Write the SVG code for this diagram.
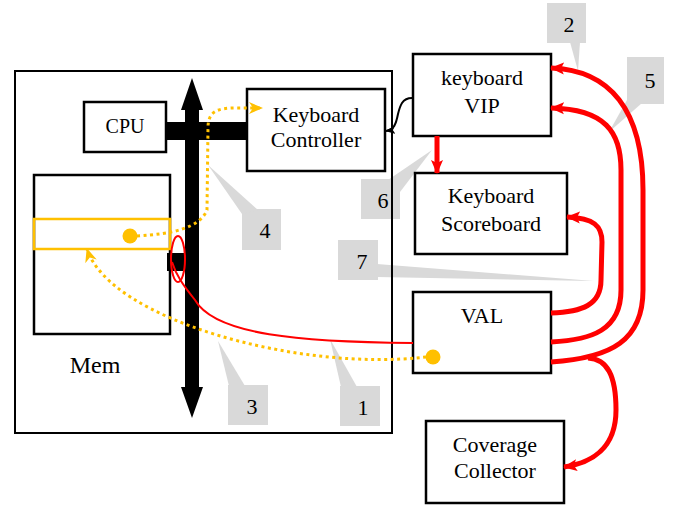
<svg xmlns="http://www.w3.org/2000/svg" width="674" height="506" viewBox="0 0 674 506">
<style>
.box{fill:#fff;stroke:#000;stroke-width:2.5}
text{font-family:'Liberation Serif','DejaVu Serif',serif;font-size:22px;fill:#000;text-anchor:middle}
.call{fill:#D9D9D9}
.red{fill:none;stroke:#FF0000;stroke-width:5}
.gold{fill:none;stroke:#FFC000;stroke-width:3;stroke-dasharray:3 3.5}
</style>
<defs>
<marker id="ra" markerUnits="userSpaceOnUse" markerWidth="14" markerHeight="14" viewBox="0 0 14 14" refX="13" refY="7" orient="auto">
<path d="M0,1 L14,7 L0,13 L3,7 Z" fill="#FF0000"/>
</marker>
<marker id="ga" markerUnits="userSpaceOnUse" markerWidth="14" markerHeight="14" viewBox="0 0 14 14" refX="13" refY="7" orient="auto">
<path d="M0,1 L14,7 L0,13 L4,7 Z" fill="#FFC000"/>
</marker>
<marker id="ka" markerUnits="userSpaceOnUse" markerWidth="10" markerHeight="10" viewBox="0 0 10 10" refX="9" refY="5" orient="auto">
<path d="M0,1 L10,5 L0,9 L2,5 Z" fill="#000"/>
</marker>
</defs>
<rect width="674" height="506" fill="#fff"/>

<g id="callouts" font-family="Liberation Serif, DejaVu Serif, serif">
<g id="c2"><rect class="call" x="547" y="3" width="39" height="40"/><polygon class="call" points="570,42 580,42 578,71"/><text x="569" y="32">2</text></g>
<g id="c5"><rect class="call" x="627" y="57" width="37" height="47"/><polygon class="call" points="627,100 642,103 609,132"/><text x="650" y="88">5</text></g>
<g id="c6"><rect class="call" x="361" y="179" width="39" height="40"/><polygon class="call" points="388,180 432,150 400,192"/><text x="383" y="208">6</text></g>
<g id="c7"><rect class="call" x="338" y="240" width="40" height="40"/><polygon class="call" points="377,264 594,281 377,277"/><text x="362" y="269">7</text></g>
<g id="c4"><rect class="call" x="242" y="209" width="39" height="41"/><polygon class="call" points="242,214 258,210 208,165"/><text x="265" y="238">4</text></g>
<g id="c3"><rect class="call" x="228" y="385" width="40" height="40"/><polygon class="call" points="229,386 245,386 218,341"/><text x="252" y="414">3</text></g>
<g id="c1"><rect class="call" x="340" y="386" width="40" height="40"/><polygon class="call" points="341,387 357,387 330,339"/><text x="363" y="415">1</text></g>
</g>

<g id="system"><rect x="15" y="71" width="377" height="362" fill="none" stroke="#000" stroke-width="2"/></g>

<g id="cpu"><rect class="box" x="84" y="102" width="82" height="50"/><text x="125" y="133" style="font-size:20px">CPU</text></g>
<g id="kc"><rect class="box" x="247" y="89" width="138" height="82"/><text x="316" y="122">Keyboard</text><text x="316" y="147">Controller</text></g>
<g id="mem"><rect class="box" x="34" y="175" width="136" height="159"/><rect x="34" y="219" width="136" height="30" fill="none" stroke="#FFC000" stroke-width="2.5"/><text x="95" y="373" style="font-size:24px">Mem</text></g>

<g id="bus">
<rect x="166" y="122" width="81" height="18" fill="#000"/>
<polygon points="192,78 203,110 199,110 199,387 203,387 192,418 181,387 185,387 185,110 181,110" fill="#000"/>
<rect x="167" y="253" width="18" height="18" fill="#000"/>
</g>

<g id="vip"><rect class="box" x="413" y="54" width="138" height="82"/><text x="482" y="85">keyboard</text><text x="482" y="113">VIP</text></g>
<g id="sb"><rect class="box" x="415" y="173" width="152" height="81"/><text x="491" y="203">Keyboard</text><text x="491" y="231">Scoreboard</text></g>
<g id="val"><rect class="box" x="413" y="292" width="138" height="81"/><text x="482" y="323">VAL</text></g>
<g id="cov"><rect class="box" x="426" y="421" width="138" height="82"/><text x="495" y="452">Coverage</text><text x="495" y="478">Collector</text></g>

<g id="connectors">
<path d="M412,98 C402,98 400,106 398,114 C396,124 394,130 386,131" fill="none" stroke="#000" stroke-width="2" marker-end="url(#ka)"/>
<path class="red" d="M437,136 L437,173" marker-end="url(#ra)"/>
<path class="red" d="M551,313 C582,312 601,305 601,280 L602,242 C602,226 594,218 567,217" marker-end="url(#ra)"/>
<path class="red" d="M551,342 C592,340 621,330 621,290 L621,170 C621,132 605,109 551,108" marker-end="url(#ra)"/>
<path class="red" d="M551,362 C612,358 643,340 643,290 L643,190 C643,110 610,70 551,68" marker-end="url(#ra)"/>
<path class="red" d="M588,358 C607,359 616,375 616,410 C616,448 592,463 564,467" marker-end="url(#ra)"/>
<ellipse cx="178" cy="259" rx="7" ry="23" fill="none" stroke="#FF0000" stroke-width="2"/>
<path d="M413,343 C300,342 215,335 195,300 C183,285 176,275 172,262" fill="none" stroke="#FF0000" stroke-width="2"/>
<path class="gold" d="M137,236 C172,234 200,228 207,210 L208,128 C208,112 216,108 236,108 L262,108" marker-end="url(#ga)"/>
<path class="gold" d="M426,357 C300,372 110,320 87,249" marker-end="url(#ga)"/>
<circle cx="130" cy="236" r="7.5" fill="#FFC000"/>
<circle cx="433" cy="357" r="7.5" fill="#FFC000"/>
</g>
</svg>
